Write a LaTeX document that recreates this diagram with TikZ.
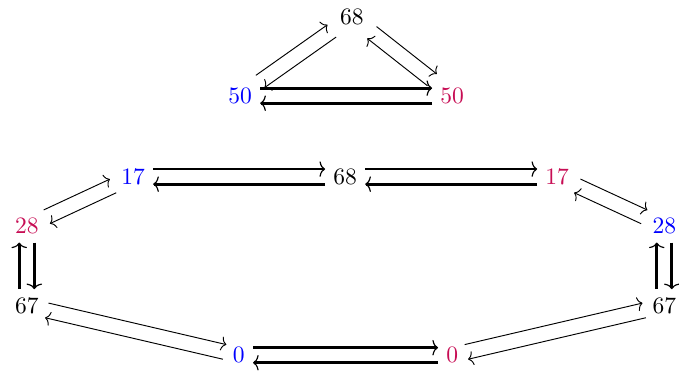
\documentclass[tikz,border=0pt]{standalone}
\usetikzlibrary{arrows.meta,calc}

\definecolor{leftc}{rgb}{0,0,1}
\definecolor{rightc}{rgb}{0.78,0.05,0.33}

% two opposite arrows, each moved to its own left side
\newcommand{\offs}{3.2pt}
\newcommand{\twoway}[3]{%
  \draw[#1, transform canvas={shift={($(#2)!\offs!90:(#3)-(#2)$)}}] (#2) -- (#3);
  \draw[#1, transform canvas={shift={($(#3)!\offs!90:(#2)-(#3)$)}}] (#3) -- (#2);}

\begin{document}
\begin{tikzpicture}[
  lnk/.style={-{To[length=2.2pt,width=6pt]}},
  lnkb/.style={very thick, -{To[line width=0.5pt,length=2.4pt,width=6.6pt]}},
  lc/.style={text=leftc},
  rc/.style={text=rightc}]
\useasboundingbox (0,0) rectangle (10.15,5.59);

% triangle
\node (t68) at (5.26,5.34) {68};
\node[lc] (l50) at (3.59,4.16) {50};
\node[rc] (r50) at (6.76,4.16) {50};

% ring
\node[lc] (a17) at (1.99,2.95) {17};
\node (m68) at (5.16,2.95) {68};
\node[rc] (b17) at (8.33,2.95) {17};
\node[rc] (a28) at (0.40,2.21) {28};
\node[lc] (b28) at (9.93,2.21) {28};
\node (a67) at (0.40,1.02) {67};
\node (b67) at (9.93,1.02) {67};
\node[lc] (a0) at (3.57,0.28) {0};
\node[rc] (b0) at (6.76,0.28) {0};

\twoway{lnk}{l50}{t68}
\twoway{lnk}{t68}{r50}
\twoway{lnkb}{l50}{r50}

\twoway{lnkb}{a17}{m68}
\twoway{lnkb}{m68}{b17}
\twoway{lnk}{a28}{a17}
\twoway{lnk}{b17}{b28}
\twoway{lnkb}{a28}{a67}
\twoway{lnkb}{b67}{b28}
\twoway{lnk}{a67}{a0}
\twoway{lnk}{b0}{b67}
\twoway{lnkb}{a0}{b0}
\end{tikzpicture}
\end{document}
